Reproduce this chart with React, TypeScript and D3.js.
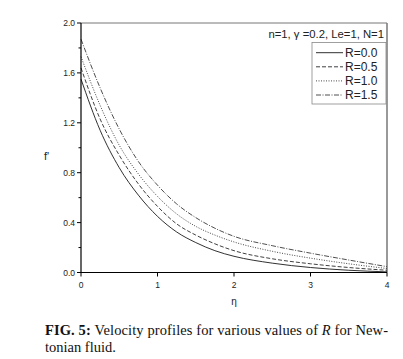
import React from "react";
import * as d3 from "d3";

// values (f' against eta)
const etaValues = [0, 0.25, 0.5, 0.75, 1, 1.25, 1.5, 1.75, 2, 2.5, 3, 3.5, 4];
const fR00 = [1.55, 1.14, 0.84, 0.62, 0.45, 0.325, 0.24, 0.175, 0.13, 0.075, 0.04, 0.018, 0.005];
const fR05 = [1.64, 1.23, 0.94, 0.71, 0.53, 0.39, 0.3, 0.23, 0.175, 0.11, 0.07, 0.04, 0.018];
const fR10 = [1.73, 1.34, 1.02, 0.79, 0.61, 0.47, 0.37, 0.3, 0.245, 0.17, 0.115, 0.07, 0.032];
const fR15 = [1.87, 1.48, 1.15, 0.89, 0.7, 0.55, 0.44, 0.355, 0.29, 0.215, 0.155, 0.1, 0.047];

const seriesLabels = ["R=0.0", "R=0.5", "R=1.0", "R=1.5"];
const seriesValues = [fR00, fR05, fR10, fR15];
const seriesDash = ["none", "4,2", "1,1.5", "5,1.5,1,1.5"];
const seriesColor = ["#1a1a1a", "#2a2a2a", "#333", "#3a3a3a"];

const xTicks = [0, 1, 2, 3, 4];
const yTicks = [0, 0.4, 0.8, 1.2, 1.6, 2.0];
const yMinor = [0.2, 0.6, 1.0, 1.4, 1.8];

const W = 403;
const H = 359;
const left = 81, right = 387, top = 23, bottom = 272.5;

export default function App() {
  const x = d3.scaleLinear().domain([0, 4]).range([left, right]);
  const y = d3.scaleLinear().domain([0, 2]).range([bottom, top]);

  const line = d3
    .line<[number, number]>()
    .x((d) => x(d[0]))
    .y((d) => y(d[1]))
    .curve(d3.curveMonotoneX);

  const tickFont = { fontFamily: "Liberation Sans, Arial, sans-serif", fontSize: 8.5, fill: "#222" };

  return (
    <svg
      width={W}
      height={H}
      style={{ position: "absolute", left: 0, top: 0, background: "#fff" }}
    >
      {/* frame */}
      <line x1={left} x2={right} y1={top} y2={top} stroke="#777" strokeWidth={1} />
      <line x1={right} x2={right} y1={top} y2={bottom} stroke="#777" strokeWidth={1.5} />

      {/* curves */}
      {seriesValues.map((vals, i) => (
        <path
          key={seriesLabels[i]}
          d={line(etaValues.map((e, k) => [e, vals[k]] as [number, number])) || ""}
          fill="none"
          stroke={seriesColor[i]}
          strokeWidth={0.9}
          strokeDasharray={seriesDash[i]}
        />
      ))}

      {/* axes */}
      <line x1={left} x2={left} y1={top} y2={bottom} stroke="#000" strokeWidth={1.2} />
      <line x1={left} x2={right} y1={bottom} y2={bottom} stroke="#000" strokeWidth={1.2} />

      {yTicks.map((t) => (
        <g key={"y" + t}>
          <line x1={left - 4} x2={left} y1={y(t)} y2={y(t)} stroke="#000" />
          <text x={left - 6} y={y(t) + 3} textAnchor="end" {...tickFont}>
            {t.toFixed(1)}
          </text>
        </g>
      ))}
      {yMinor.map((t) => (
        <line key={"ym" + t} x1={left - 2.5} x2={left} y1={y(t)} y2={y(t)} stroke="#000" />
      ))}

      {xTicks.map((t) => (
        <g key={"x" + t}>
          <line x1={x(t)} x2={x(t)} y1={bottom} y2={bottom + 4} stroke="#000" />
          <text x={x(t)} y={287.5} textAnchor="middle" {...tickFont}>
            {t}
          </text>
        </g>
      ))}

      {/* axis titles */}
      <text x={44} y={160} fontFamily="Liberation Sans, Arial, sans-serif" fontSize={11} fill="#222">
        f'
      </text>
      <text x={x(2)} y={305} textAnchor="middle" fontFamily="Liberation Sans, Arial, sans-serif" fontSize={10} fill="#222">
        η
      </text>

      {/* annotation */}
      <text x={384} y={37.5} textAnchor="end" fontFamily="Liberation Sans, Arial, sans-serif" fontSize={11.3} fill="#222">
        n=1, γ =0.2, Le=1, N=1
      </text>

      {/* legend */}
      <rect x={312} y={42.5} width={74} height={61.5} fill="#fff" stroke="#888" strokeWidth={0.8} />
      {seriesLabels.map((lab, i) => {
        const cy = 52.7 + i * 14.1;
        return (
          <g key={"lg" + lab}>
            <line
              x1={316}
              x2={343}
              y1={cy}
              y2={cy}
              stroke={seriesColor[i]}
              strokeWidth={0.9}
              strokeDasharray={seriesDash[i]}
            />
            <text x={345} y={cy + 4.2} fontFamily="Liberation Sans, Arial, sans-serif" fontSize={12} fill="#222">
              {lab}
            </text>
          </g>
        );
      })}

      {/* caption */}
      <text x={45} y={335} fontFamily="Liberation Serif, Times New Roman, serif" fontSize={14.5} fill="#111" textLength={343} lengthAdjust="spacing">
        <tspan fontWeight="bold">FIG. 5: </tspan>
        <tspan>Velocity profiles for various values of </tspan>
        <tspan fontStyle="italic">R</tspan>
        <tspan> for New-</tspan>
      </text>
      <text x={45} y={352} fontFamily="Liberation Serif, Times New Roman, serif" fontSize={14.5} fill="#111">
        tonian fluid.
      </text>
    </svg>
  );
}
